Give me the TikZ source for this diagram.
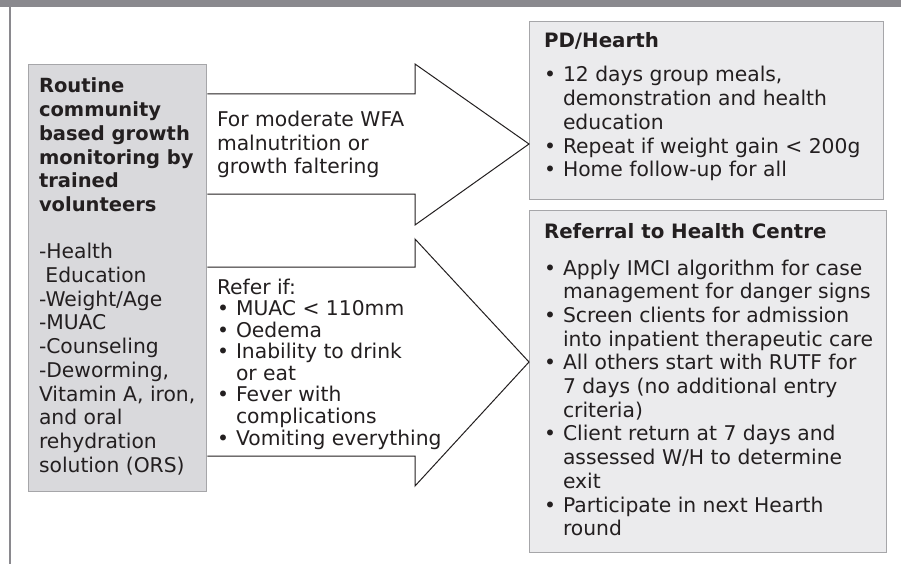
\documentclass[tikz,border=0pt]{standalone}
\usepackage{fontspec}
\setmainfont{DejaVu Sans}
\definecolor{barcol}{HTML}{8A898E}
\definecolor{leftfill}{HTML}{D9D9DC}
\definecolor{rightfill}{HTML}{EBEBED}
\definecolor{boxedge}{HTML}{A6A6A9}
\definecolor{ink}{HTML}{231F20}
\newcommand\bul{\makebox[19pt][l]{•}}
\newcommand\hd[1]{{\fontsize{19.5}{23.7}\selectfont\bfseries #1}}
\tikzset{
  txt/.style={inner sep=0pt, outer sep=0pt, anchor=base west, text=ink,
    font=\fontsize{20.3}{23.7}\selectfont},
  tighttxt/.style={txt, font=\fontsize{20.3}{21.2}\selectfont},
  headtxt/.style={txt, font=\fontsize{19.8}{23.7}\selectfont\bfseries},
  srcbox/.style={draw=boxedge, fill=leftfill, line width=1.3pt, inner sep=0pt, anchor=north west},
  infobox/.style={draw=boxedge, fill=rightfill, line width=1.3pt, inner sep=0pt, anchor=north west},
  blockarrow/.style={draw=ink, line width=1pt, line join=miter},
}
\begin{document}
\begin{tikzpicture}[x=1pt, y=-1pt]
  \useasboundingbox (0,0) rectangle (901,564);
  \fill[white] (0,0) rectangle (901,564);
  % frame: top band and left rule
  \fill[barcol] (0,0) rectangle (901,7);
  \fill[barcol] (8.5,7) rectangle (11,564);

  % boxes
  \node[srcbox, minimum width=178pt, minimum height=427pt] (src) at (28,64) {};
  \node[infobox, minimum width=354pt, minimum height=178pt] (pd) at (529,21) {};
  \node[infobox, minimum width=357pt, minimum height=342pt] (ref) at (529,210) {};

  % block arrows
  \draw[blockarrow] (src.east |- 0,94) -- (415,94) -- (415,64) -- (pd.west |- 0,144)
    -- (415,225) -- (415,194) -- (src.east |- 0,194);
  \draw[blockarrow] (src.east |- 0,267) -- (415,267) -- (415,239) -- (ref.west |- 0,362)
    -- (415,486) -- (415,456) -- (src.east |- 0,456);

  % source box text
  \node[txt] (srctext) at (39,93) {\begin{tabular}[t]{@{}l@{}}
    \hd{Routine}\\ \hd{community}\\ \hd{based growth}\\
    \hd{monitoring by}\\ \hd{trained}\\ \hd{volunteers}\\ \\
    -Health\\ \hspace*{.32em}Education\\ -Weight/Age\\ -MUAC\\ -Counseling\\
    -Deworming,\\ Vitamin A, iron,\\ and oral\\ rehydration\\ solution (ORS)
  \end{tabular}};

  % arrow labels
  \node[txt] (uplabel) at (217,126.5) {\begin{tabular}[t]{@{}l@{}}
    For moderate WFA\\ malnutrition or\\ growth faltering
  \end{tabular}};
  \node[tighttxt] (lowlabel) at (217,294) {\begin{tabular}[t]{@{}l@{}l@{}}
    \multicolumn{2}{@{}l@{}}{Refer if:}\\
    \bul & MUAC < 110mm\\
    \bul & Oedema\\
    \bul & Inability to drink\\
         & or eat\\
    \bul & Fever with\\
         & complications\\
    \bul & Vomiting everything
  \end{tabular}};

  % PD/Hearth box text
  \node[headtxt] (pdhead) at (544,48) {PD/Hearth};
  \node[txt] (pdlist) at (544,82) {\begin{tabular}[t]{@{}l@{}l@{}}
    \bul & 12 days group meals,\\
         & demonstration and health\\
         & education\\
    \bul & Repeat if weight gain < 200g\\
    \bul & Home follow-up for all
  \end{tabular}};

  % referral box text
  \node[headtxt] (refhead) at (544,238) {Referral to Health Centre};
  \node[txt] (reflist) at (544,275) {\begin{tabular}[t]{@{}l@{}l@{}}
    \bul & Apply IMCI algorithm for case\\
         & management for danger signs\\
    \bul & Screen clients for admission\\
         & into inpatient therapeutic care\\
    \bul & All others start with RUTF for\\
         & 7 days (no additional entry\\
         & criteria)\\
    \bul & Client return at 7 days and\\
         & assessed W/H to determine\\
         & exit\\
    \bul & Participate in next Hearth\\
         & round
  \end{tabular}};
\end{tikzpicture}
\end{document}
